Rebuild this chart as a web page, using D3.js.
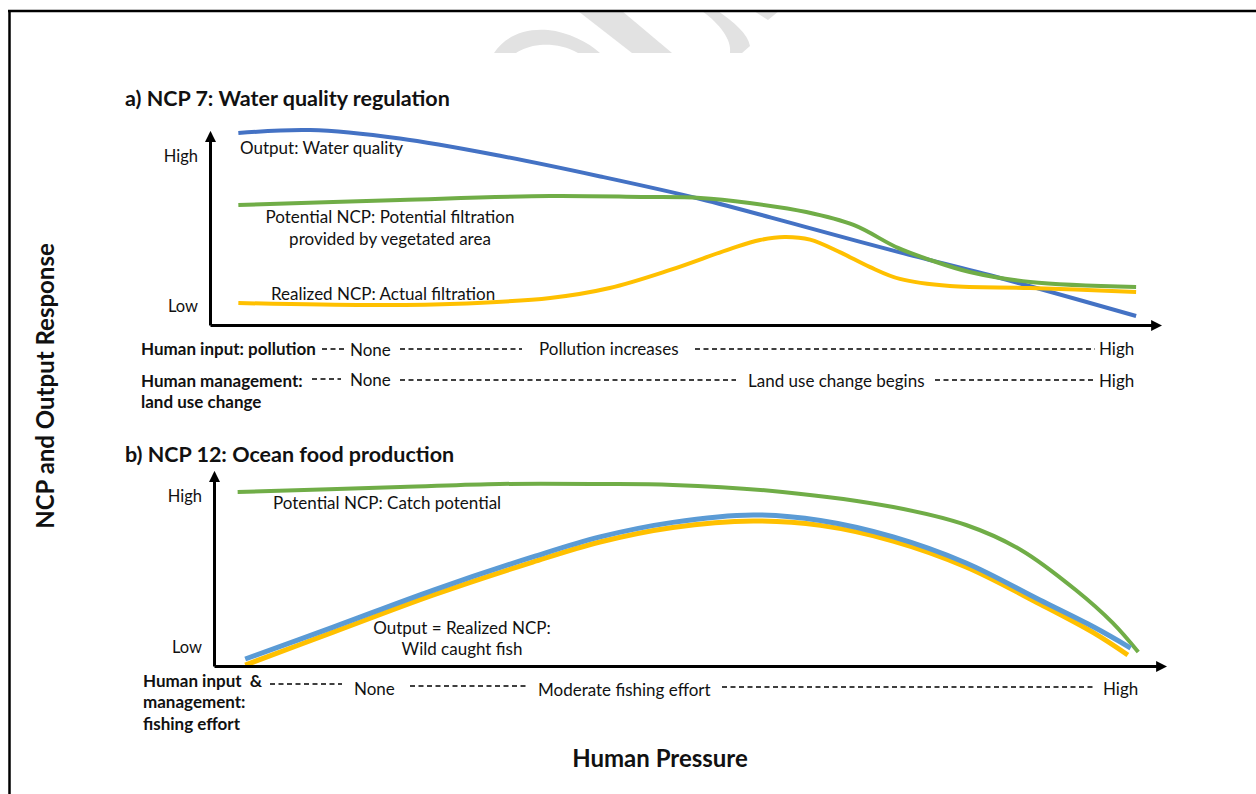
<!DOCTYPE html>
<html>
<head>
<meta charset="utf-8">
<script src="https://cdn.jsdelivr.net/npm/d3@7"></script>
<style>
  body { margin: 0; background: #fff; }
  svg { display: block; }
  text { font-family: Lato, "Open Sans", sans-serif; fill: #111; white-space: pre; }
</style>
</head>
<body>
<svg id="chart" width="1256" height="794"></svg>
<script>
// Conceptual response curves: human pressure (0–100) against NCP / output level (0–100).

// a) NCP 7: Water quality regulation
const waterOutputX     = [3, 10.6, 20.1, 30.7, 41.3, 51.9, 62.4, 73, 83.6, 98];
const waterOutputY     = [102.1, 103.7, 99.2, 90, 79, 67, 53, 38.6, 25, 4.8];
const waterPotentialX  = [3, 20.1, 36, 45.7, 51.9, 57.1, 63.1, 68.1, 72.8, 76.2, 80.4, 86.8, 98];
const waterPotentialY  = [63.8, 66.5, 68.6, 68.1, 67.6, 64.9, 60.1, 53.2, 41, 34.6, 28.2, 22.9, 20.2];
const waterRealizedX   = [3, 16.6, 25.4, 36, 42.3, 48.7, 55, 58.2, 60.8, 63.5, 66.7, 69.8, 73, 78.3, 86.8, 98];
const waterRealizedY   = [11.7, 10.6, 11.2, 14.4, 19.7, 29.3, 40.4, 45.2, 46.8, 45.4, 38.6, 30.9, 24.5, 20.7, 19.7, 17.6];

// b) NCP 12: Ocean food production
const fishPotentialX   = [2.5, 19.7, 30.2, 40.8, 48.5, 60.1, 71.8, 79.5, 85.3, 91.1, 95, 97.7];
const fishPotentialY   = [92.1, 94.7, 96.3, 96.3, 95.8, 92.1, 84.1, 74.6, 61.4, 40.2, 22.8, 7.4];
const fishOutputX      = [3.3, 12.6, 23.2, 33.7, 40.8, 48.5, 57, 64.1, 71.8, 79.5, 87.3, 93, 96.9];
const fishOutputY      = [3.7, 20.6, 40.2, 57.7, 68.3, 76, 79.9, 77, 68.3, 54.5, 34.9, 20.6, 9.5];
const fishRealizedX    = [3.3, 12.6, 23.2, 33.7, 40.8, 48.5, 57, 64.1, 71.8, 79.5, 87.3, 93, 96.6];
const fishRealizedY    = [0.5, 17.9, 37.6, 55, 65.6, 73.3, 76.7, 74.4, 66.1, 52.4, 32.8, 17.5, 5.8];

// Response-level tick labels on the vertical axes
const levelTickValues  = [10, 90];
const levelTickLabels  = ["Low", "High"];

const svg = d3.select("#chart");
const zip = (xs, ys) => xs.map((x, i) => [x, ys[i]]);

// Arrowhead used at the ends of both axes
svg.append("defs").append("marker")
  .attr("id", "arrow")
  .attr("viewBox", "0 0 10 10")
  .attr("refX", 4).attr("refY", 5)
  .attr("markerWidth", 11).attr("markerHeight", 11)
  .attr("markerUnits", "userSpaceOnUse")
  .attr("orient", "auto")
  .append("path").attr("d", "M0,0 L10,5 L0,10 z").attr("fill", "#000");

// Faint "DRAFT" watermark fragments along the top edge
const wm = svg.append("g").attr("fill", "#e2e2e2");
wm.append("path").attr("d", "M494,53 C505,36 525,28 548,30 C568,32 588,42 600,53 L578,53 C566,46 552,44 540,45 C530,46 522,49 516,53 Z");
wm.append("path").attr("d", "M578,11 L622,11 L672,53 L632,53 Z");
wm.append("path").attr("d", "M702,11 L718,11 C734,22 748,34 750,46 L742,53 L730,53 C732,40 720,24 702,11 Z");
wm.append("path").attr("d", "M754,11 L779,11 L768,20 Z");

// Page frame (top and left rules)
svg.append("path").attr("d", "M8,11 H1256 M9.5,10 V794")
  .attr("stroke", "#000").attr("stroke-width", 2.5).attr("fill", "none");

function drawPanel(cfg) {
  const x = d3.scaleLinear([0, 100], cfg.xRange);
  const y = d3.scaleLinear([0, 100], cfg.yRange);
  const g = svg.append("g");

  g.append("text").attr("x", 125).attr("y", cfg.titleY).attr("dy", "0.35em")
    .attr("font-size", 21.5).attr("font-weight", 700).text(cfg.title);

  const line = d3.line().x(d => x(d[0])).y(d => y(d[1])).curve(d3.curveCatmullRom.alpha(0.5));
  cfg.series.forEach(s => {
    g.append("path").datum(zip(s.x, s.y))
      .attr("d", line).attr("fill", "none")
      .attr("stroke", s.color).attr("stroke-width", s.width)
      .attr("stroke-linecap", "butt").attr("stroke-linejoin", "round");
  });

  // Axes: bare arrowed lines, only the Low / High labels on the vertical one
  const yAxis = g.append("g").attr("transform", `translate(${cfg.xRange[0]},0)`)
    .call(d3.axisLeft(y).tickValues(levelTickValues)
      .tickFormat((d, i) => levelTickLabels[i]).tickSize(0).tickSizeOuter(0).tickPadding(12));
  const xAxis = g.append("g").attr("transform", `translate(0,${cfg.yRange[0]})`)
    .call(d3.axisBottom(x).tickValues([]).tickSizeOuter(0));
  [yAxis, xAxis].forEach(a => a.select(".domain")
    .attr("stroke", "#000").attr("stroke-width", 3).attr("marker-end", "url(#arrow)"));
  yAxis.selectAll("text").attr("font-size", 16.5).attr("font-family", "Lato, sans-serif").attr("fill", "#111");

  cfg.labels.forEach(l => {
    g.append("text").attr("x", l.x).attr("y", l.y).attr("dy", "0.35em")
      .attr("text-anchor", l.anchor || "start")
      .attr("font-size", 17).attr("font-weight", l.bold ? 700 : 400)
      .text(l.text);
  });

  cfg.dashes.forEach(d => {
    g.append("line").attr("x1", d[0]).attr("x2", d[1]).attr("y1", d[2]).attr("y2", d[2])
      .attr("stroke", "#000").attr("stroke-width", 1.4).attr("stroke-dasharray", "5,3.5");
  });
}

drawPanel({
  title: "a) NCP 7: Water quality regulation", titleY: 98,
  xRange: [210, 1155], yRange: [325, 137],
  series: [
    { x: waterOutputX, y: waterOutputY, color: "#4472c4", width: 4 },
    { x: waterPotentialX, y: waterPotentialY, color: "#70ad47", width: 4 },
    { x: waterRealizedX, y: waterRealizedY, color: "#ffc000", width: 4 }
  ],
  labels: [
    { text: "Output: Water quality", x: 240, y: 148 },
    { text: "Potential NCP: Potential filtration", x: 390, y: 217, anchor: "middle" },
    { text: "provided by vegetated area", x: 390, y: 239, anchor: "middle" },
    { text: "Realized NCP: Actual filtration", x: 271, y: 294 },
    { text: "Human input: pollution", x: 141, y: 349, bold: true },
    { text: "None", x: 350, y: 350 },
    { text: "Pollution increases", x: 539, y: 349 },
    { text: "High", x: 1099, y: 349 },
    { text: "Human management:", x: 141, y: 381, bold: true },
    { text: "land use change", x: 141, y: 402, bold: true },
    { text: "None", x: 350, y: 380 },
    { text: "Land use change begins", x: 748, y: 381 },
    { text: "High", x: 1099, y: 381 }
  ],
  dashes: [
    [322, 345, 349], [400, 522, 349], [695, 1095, 349],
    [312, 341, 379], [400, 736, 380], [935, 1093, 380]
  ]
});

drawPanel({
  title: "b) NCP 12: Ocean food production", titleY: 454,
  xRange: [214, 1160], yRange: [666, 477],
  series: [
    { x: fishPotentialX, y: fishPotentialY, color: "#70ad47", width: 4 },
    { x: fishRealizedX, y: fishRealizedY, color: "#ffc000", width: 5 },
    { x: fishOutputX, y: fishOutputY, color: "#5b9bd5", width: 5 }
  ],
  labels: [
    { text: "Potential NCP: Catch potential", x: 273, y: 503 },
    { text: "Output = Realized NCP:", x: 462, y: 628, anchor: "middle" },
    { text: "Wild caught fish", x: 462, y: 649, anchor: "middle" },
    { text: "Human input  &", x: 143, y: 681, bold: true },
    { text: "management:", x: 143, y: 702, bold: true },
    { text: "fishing effort", x: 143, y: 724, bold: true },
    { text: "None", x: 354, y: 689 },
    { text: "Moderate fishing effort", x: 538, y: 690 },
    { text: "High", x: 1103, y: 689 }
  ],
  dashes: [
    [270, 342, 684], [410, 528, 686], [722, 1095, 687]
  ]
});

// Shared axis titles
svg.append("text").attr("x", 660).attr("y", 759).attr("dy", "0.35em")
  .attr("text-anchor", "middle").attr("font-size", 24).attr("font-weight", 700)
  .text("Human Pressure");
svg.append("text").attr("transform", "translate(46,386) rotate(-90)").attr("dy", "0.35em")
  .attr("text-anchor", "middle").attr("font-size", 24).attr("font-weight", 700)
  .text("NCP and Output Response");
</script>
</body>
</html>
